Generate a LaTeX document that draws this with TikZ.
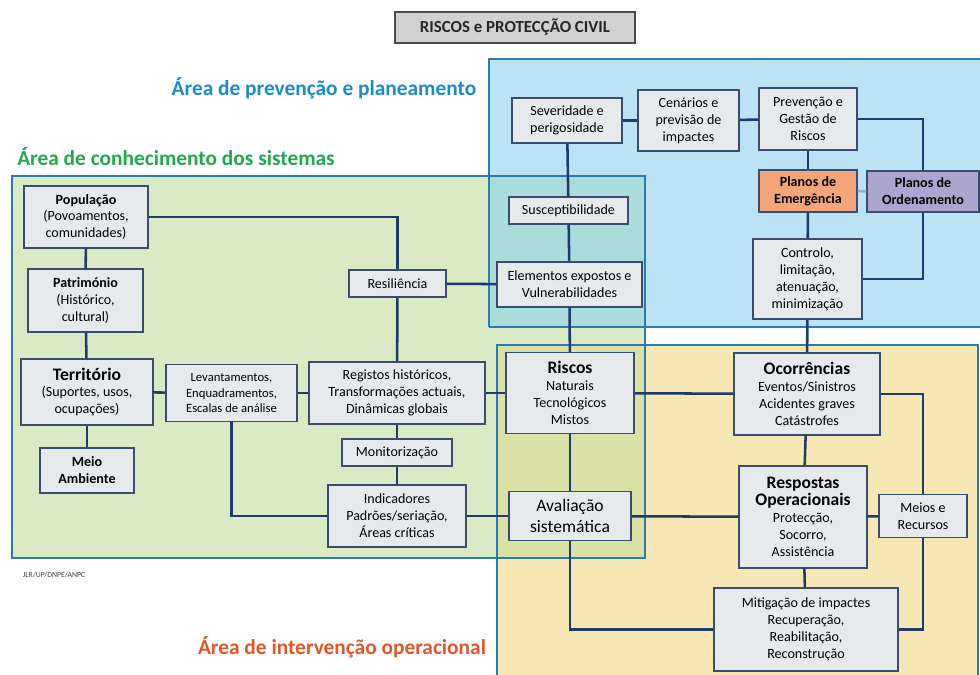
\documentclass[tikz,border=0pt]{standalone}
\usepackage{fontspec}
\setmainfont{Carlito}
\usepackage{tikz}
\usetikzlibrary{positioning,shadows}

\definecolor{boxfill}{HTML}{E7EAEC}
\definecolor{boxline}{HTML}{3A4D6E}
\definecolor{linknavy}{HTML}{1E3A6E}
\definecolor{prevfill}{HTML}{BCE3F5}
\definecolor{conhfill}{HTML}{DAEAC4}
\definecolor{intfill}{HTML}{F6E7B4}
\definecolor{tealfill}{HTML}{A9DCDA}
\definecolor{olivefill}{HTML}{D9E1A6}
\definecolor{arealine}{HTML}{2C7BB0}
\definecolor{prevtext}{HTML}{1A8BCB}
\definecolor{conhtext}{HTML}{22A84E}
\definecolor{inttext}{HTML}{E2572A}
\definecolor{emerfill}{HTML}{F5A57A}
\definecolor{ordfill}{HTML}{ABA5CF}

\tikzstyle{box} = [draw=boxline,line width=0.8pt,fill=boxfill,align=center,inner sep=1pt,
  font=\fontsize{10}{12}\selectfont,drop shadow={opacity=0.25,shadow xshift=0.6pt,shadow yshift=-0.6pt}]
\tikzstyle{link} = [draw=linknavy,line width=1.8pt]
\tikzstyle{area} = [draw=arealine,line width=1.2pt]
\tikzstyle{arealabel} = [font=\fontsize{15.2}{17}\selectfont\bfseries]

\begin{document}
\begin{tikzpicture}[x=0.025cm,y=-0.025cm]
	\clip (0,0) rectangle (980,675);

	%Areas
	\fill[prevfill] (489,59) rectangle (990,327);
	\fill[conhfill] (12,176) rectangle (645,558);
	\fill[intfill] (497,345) rectangle (978,690);
	\fill[tealfill] (489,176) rectangle (645,327);
	\fill[olivefill] (497,345) rectangle (645,558);
	\draw[area] (489,327) -- (489,59) -- (990,59);
	\draw[area] (489,327) -- (990,327);
	\draw[area] (12,176) rectangle (645,558);
	\draw[area] (497,690) -- (497,345) -- (978,345) -- (978,690);

	\node[arealabel,text=prevtext] (lprev) at (324,88) {Área de prevenção e planeamento};
	\node[arealabel,text=conhtext] (lconh) at (176,157) {Área de conhecimento dos sistemas};
	\node[arealabel,text=inttext] (lint) at (342,647) {Área de intervenção operacional};
	\node[anchor=west,text=black!75,font=\fontsize{5.5}{6}\selectfont] (src) at (18,575) {JLR/UP/DNPE/ANPC};

	%Title
	\node[draw=black!70,line width=0.9pt,fill=black!18,minimum width=6cm,minimum height=0.78cm,
	  font=\fontsize{12}{14}\selectfont\bfseries,text=black!85] (title) at (515,27.5) {RISCOS e PROTECÇÃO CIVIL};

	%Nodes
	\node[box,minimum width=3.1cm,minimum height=1.55cm] (pop) at (86,217) {\textbf{População}\\(Povoamentos,\\comunidades)};
	\node[box,minimum width=2.875cm,minimum height=1.575cm] (pat) at (85.5,300.5) {\textbf{Património}\\(Histórico,\\cultural)};
	\node[box,minimum width=3.3cm,minimum height=1.65cm] (ter) at (87,392) {{\fontsize{12.5}{15}\selectfont\textbf{Território}}\\(Suportes, usos,\\ocupações)};
	\node[box,minimum width=2.35cm,minimum height=1.125cm] (meio) at (87,470.5) {\textbf{Meio}\\\textbf{Ambiente}};
	\node[box,minimum width=3.275cm,minimum height=1.425cm,font=\fontsize{9}{11}\selectfont] (lev) at (231.5,393) {Levantamentos,\\Enquadramentos,\\Escalas de análise};
	\node[box,minimum width=2.425cm,minimum height=0.675cm] (res) at (397.5,283.5) {Resiliência};
	\node[box,minimum width=4.4cm,minimum height=1.55cm] (reg) at (397,393) {Registos históricos,\\Transformações actuais,\\Dinâmicas globais};
	\node[box,minimum width=2.75cm,minimum height=0.675cm] (mon) at (397,452.5) {Monitorização};
	\node[box,minimum width=3.45cm,minimum height=1.55cm] (ind) at (397,516) {Indicadores\\Padrões/seriação,\\Áreas críticas};

	\node[box,minimum width=2.75cm,minimum height=1.125cm] (sev) at (567,120.5) {Severidade e\\perigosidade};
	\node[box,minimum width=2.525cm,minimum height=1.525cm] (cen) at (688.5,120.5) {Cenários e\\previsão de\\impactes};
	\node[box,minimum width=2.45cm,minimum height=1.55cm] (prev) at (808,119) {Prevenção e\\Gestão de\\Riscos};
	\node[box,fill=emerfill,minimum width=2.45cm,minimum height=1.05cm] (emer) at (808,191) {\textbf{Planos de}\\\textbf{Emergência}};
	\node[box,fill=ordfill,minimum width=2.8cm,minimum height=1.025cm] (ord) at (923,191.5) {\textbf{Planos de}\\\textbf{Ordenamento}};
	\node[box,minimum width=2.975cm,minimum height=0.675cm] (sus) at (568.5,210.5) {Susceptibilidade};
	\node[box,minimum width=3.625cm,minimum height=1.125cm] (ele) at (569.5,284.5) {Elementos expostos e\\Vulnerabilidades};
	\node[box,minimum width=2.725cm,minimum height=2cm] (ctrl) at (807.5,279) {Controlo,\\limitação,\\atenuação,\\minimização};

	\node[box,minimum width=3.2cm,minimum height=2.025cm] (ris) at (570,393) {{\fontsize{12.5}{14}\selectfont\textbf{Riscos}}\\Naturais\\Tecnológicos\\Mistos};
	\node[box,minimum width=3.65cm,minimum height=2.05cm] (oco) at (807,394) {{\fontsize{12.5}{14}\selectfont\textbf{Ocorrências}}\\Eventos/Sinistros\\Acidentes graves\\Catástrofes};
	\node[box,minimum width=3.05cm,minimum height=1.225cm,font=\fontsize{12.5}{15}\selectfont] (ava) at (570,516) {Avaliação\\sistemática};
	\node[box,minimum width=3.2cm,minimum height=2.55cm] (resp) at (803,517) {{\fontsize{12.5}{15}\selectfont\textbf{Respostas}}\\{\fontsize{12.5}{15}\selectfont\textbf{Operacionais}}\\Protecção,\\Socorro,\\Assistência};
	\node[box,minimum width=2.2cm,minimum height=1.075cm] (meios) at (923,516) {Meios e\\Recursos};
	\node[box,minimum width=4.6cm,minimum height=2.075cm] (mit) at (806,629.5) {Mitigação de impactes\\Recuperação,\\Reabilitação,\\Reconstrução};

	%Lines
	\draw[link] (pop) -- (pat);
	\draw[link] (pat) -- (ter);
	\draw[link] (ter) -- (meio);
	\draw[link] (ter) -- (lev);
	\draw[link] (lev) -- (reg);
	\draw[link] (reg) -- (ris);
	\draw[link] (ris) -- (oco);
	\draw[link] (pop.east) -| (res.north);
	\draw[link] (res) -- (reg);
	\draw[link] (res) -- (ele);
	\draw[link] (reg) -- (mon);
	\draw[link] (mon) -- (ind);
	\draw[link] (lev.south) |- (ind.west);
	\draw[link] (ind) -- (ava);
	\draw[link] (ava) -- (resp);
	\draw[link] (resp) -- (meios);
	\draw[link] (sev) -- (cen);
	\draw[link] (cen) -- (prev);
	\draw[link] (sev) -- (sus);
	\draw[link] (sus) -- (ele);
	\draw[link] (ele) -- (ris);
	\draw[link] (ris) -- (ava);
	\draw[link] (prev) -- (emer);
	\draw[link] (emer) -- (ctrl);
	\draw[link,draw=arealine!55] (emer) -- (ord);
	\draw[link] (prev.east) -| (ord.north);
	\draw[link] (ord.south) |- (ctrl.east);
	\draw[link] (ctrl) -- (oco);
	\draw[link] (oco) -- (resp);
	\draw[link] (oco.east) -| (meios.north);
	\draw[link] (resp) -- (mit);
	\draw[link] (ava.south) |- (mit.west);
	\draw[link] (mit.east) -| (meios.south);

\end{tikzpicture}
\end{document}
